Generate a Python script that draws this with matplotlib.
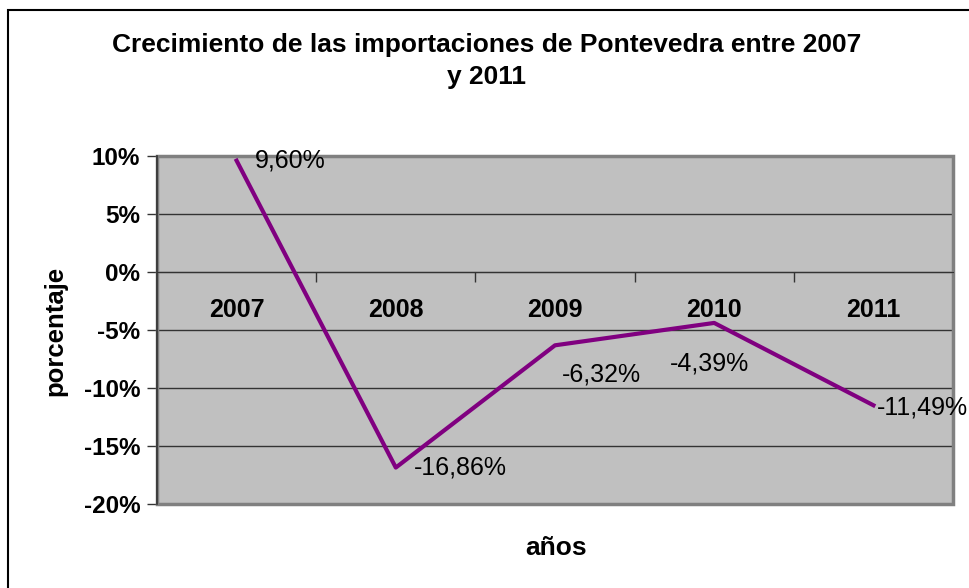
import matplotlib.pyplot as plt
from matplotlib.patches import Rectangle
from matplotlib.ticker import FixedLocator, FuncFormatter

plt.rcParams['font.family'] = ['Liberation Sans', 'DejaVu Sans']

# datos
years = ["2007", "2008", "2009", "2010", "2011"]
growth = [9.60, -16.86, -6.32, -4.39, -11.49]
labels = ["9,60%", "-16,86%", "-6,32%", "-4,39%", "-11,49%"]
y_ticks = [-20, -15, -10, -5, 0, 5, 10]

# desplazamiento de cada etiqueta (pixeles)
label_offsets = [(18, 0), (18, 0), (7, -29), (-44, -41), (3, -2)]

fig = plt.figure(figsize=(9.7, 5.88), dpi=100)
ax = fig.add_axes([157 / 970, 1 - 504 / 588, (953 - 157) / 970, (504 - 156) / 588])

# marco exterior del grafico
fig.patches.append(Rectangle((8 / 970, -0.1), 1.2, (588 - 10) / 588 + 0.1,
                             transform=fig.transFigure, fill=False,
                             edgecolor='black', linewidth=1.5, zorder=0))

ax.set_facecolor('#C0C0C0')
x = list(range(1, len(years) + 1))
ax.set_xlim(0.5, len(years) + 0.5)
ax.set_ylim(-20, 10)

for v in y_ticks:
    ax.axhline(v, color='#333333', linewidth=1, zorder=1)

ax.plot(x, growth, color='#800080', linewidth=3, zorder=3, clip_on=False)

for xi, yi, lab, (dx, dy) in zip(x, growth, labels, label_offsets):
    ax.annotate(lab, (xi, yi), xytext=(dx, dy), textcoords='offset pixels',
                ha='left', va='center', fontsize=18, color='black', zorder=4,
                annotation_clip=False)

# ejes
for s in ['top', 'right']:
    ax.spines[s].set_visible(False)
ax.spines['bottom'].set_position(('data', 0))
ax.spines['bottom'].set_color('#333333')
ax.spines['left'].set_color('#333333')
ax.spines['left'].set_linewidth(1.2)
ax.add_patch(Rectangle((0, 0), 1, 1, transform=ax.transAxes, fill=False,
                       edgecolor='#808080', linewidth=2.5, zorder=2, clip_on=False))

ax.yaxis.set_major_locator(FixedLocator(y_ticks))
ax.yaxis.set_major_formatter(FuncFormatter(lambda v, p: f"{v:.0f}%"))
ax.tick_params(axis='y', length=7, width=1, color='#333333', pad=5,
               labelsize=17.5)
for t in ax.get_yticklabels():
    t.set_fontweight('bold')

ax.xaxis.set_major_locator(FixedLocator([i + 0.5 for i in range(len(years) + 1)]))
ax.xaxis.set_major_formatter(FuncFormatter(lambda v, p: ""))
ax.xaxis.set_minor_locator(FixedLocator(x))
ax.set_xticks(x, years, minor=True)
ax.tick_params(axis='x', which='major', length=7, width=1, color='#333333',
               direction='out')
ax.tick_params(axis='x', which='minor', length=0, pad=19, labelsize=18)
for t in ax.get_xticklabels(minor=True):
    t.set_fontweight('bold')

fig.text(487 / 970, 1 - 61 / 588,
         "Crecimiento de las importaciones de Pontevedra entre 2007\ny 2011",
         ha='center', va='center', fontsize=19, fontweight='bold',
         linespacing=1.4)
fig.text(55 / 970, 1 - 331 / 588, "porcentaje", rotation=90, ha='center',
         va='center', fontsize=18.5, fontweight='bold')
fig.text(556 / 970, 1 - 548 / 588, "años", ha='center', va='center',
         fontsize=19, fontweight='bold')

fig.savefig('out.png', dpi=100)
